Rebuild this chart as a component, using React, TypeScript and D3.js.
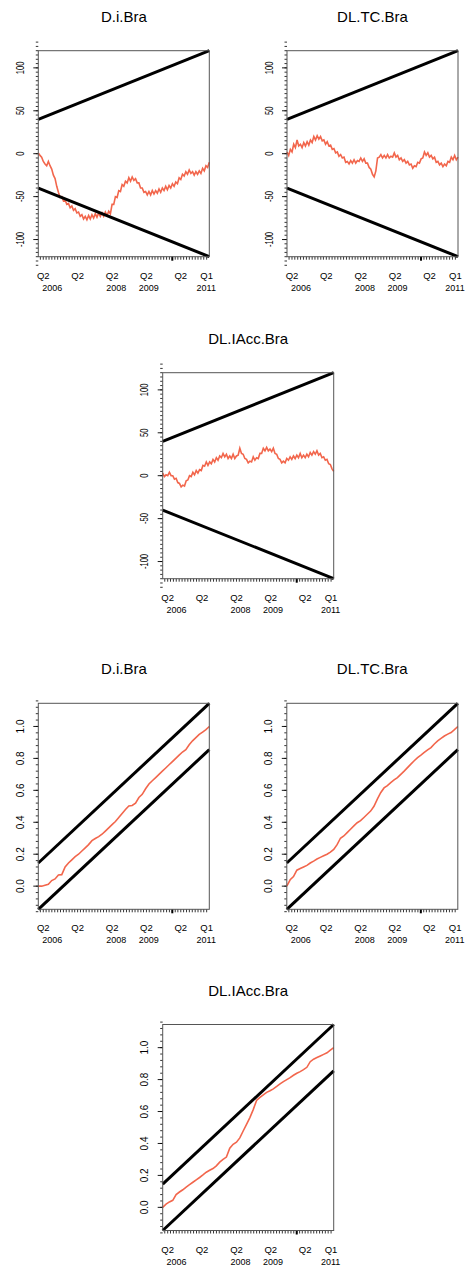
import React from "react";
import * as d3 from "d3";

// Sample window shared by every panel (daily observations, Feb 2006 – Jan 2011)
const SAMPLE_START = new Date(2006, 1, 7);
const SAMPLE_END = new Date(2011, 0, 29);

// Axis labelling
const quarterTicks = [
  { date: "2006-04-01", label: "Q2" },
  { date: "2007-04-01", label: "Q2" },
  { date: "2008-04-01", label: "Q2" },
  { date: "2009-04-01", label: "Q2" },
  { date: "2010-04-01", label: "Q2" },
  { date: "2011-01-01", label: "Q1" },
];
const yearTicks = [
  { date: "2006-07-05", label: "2006" },
  { date: "2008-05-15", label: "2008" },
  { date: "2009-04-25", label: "2009" },
  { date: "2010-12-28", label: "2011" },
];
const yearBreak = "2010-01-01";

const cusumMajorTicks = [-100, -50, 0, 50, 100];
const squaresMajorTicks = [0, 0.2, 0.4, 0.6, 0.8, 1.0];

// Critical boundaries
const cusumBound = 40; // a*sqrt(n) at the start, 3*a*sqrt(n) at the end
const squaresBound = 0.145; // c0 for the CUSUM of squares

// Recursive-residual CUSUM paths
const cusumDi = [
  1, -2, -4, -9, -12, -14, -9, -14, -18, -25, -29, -38, -45, -51, -50, -55, -54, -59, -58, -63,
  -61, -66, -64, -69, -68, -73, -71, -76, -73, -77, -72, -76, -71, -75, -70, -74, -69, -73, -69, -73,
  -68, -72, -67, -70, -59, -59, -50, -51, -43, -44, -36, -38, -32, -34, -28, -32, -27, -31, -29, -34,
  -34, -40, -40, -45, -44, -48, -44, -48, -43, -47, -43, -46, -41, -45, -40, -43, -38, -42, -37, -40,
  -35, -38, -33, -35, -28, -30, -24, -26, -21, -24, -19, -23, -21, -25, -21, -24, -20, -23, -17, -20,
  -14, -16, -10,
];
const cusumTC = [
  2, -2, 5, 2, 11, 7, 16, 9, 11, 7, 13, 9, 14, 10, 16, 13, 20, 16, 21, 17,
  20, 15, 16, 11, 14, 9, 10, 5, 6, 1, 2, -3, -1, -5, -4, -10, -9, -12, -8, -11,
  -7, -11, -8, -9, -5, -9, -6, -11, -11, -16, -18, -24, -27, -20, -5, -4, -1, -5, -2, -5,
  -1, -5, -3, -4, 1, -4, -2, -7, -5, -9, -7, -11, -9, -13, -12, -17, -14, -15, -10, -11,
  -6, -5, 2, -2, 1, -4, -2, -6, -4, -10, -9, -13, -11, -15, -12, -14, -9, -10, -4, -7,
  -2, -7, -4,
];
const cusumIAcc = [
  3, -1, 1, 0, 4, 0, 0, -4, -3, -8, -9, -13, -11, -12, -6, -5, 0, -1, 4, 1,
  6, 3, 7, 6, 12, 11, 16, 12, 16, 14, 19, 16, 21, 18, 23, 21, 26, 22, 25, 20,
  23, 20, 25, 20, 23, 24, 32, 26, 25, 20, 19, 15, 17, 16, 22, 18, 21, 20, 26, 26,
  32, 29, 33, 29, 31, 28, 32, 26, 25, 20, 19, 15, 17, 15, 20, 18, 22, 19, 23, 20,
  24, 21, 26, 21, 24, 21, 25, 22, 27, 24, 28, 25, 29, 24, 26, 21, 22, 18, 19, 14,
  13, 8, 5,
];

// CUSUM of squares paths
const squaresDi = [
  0, 0, 0.006, 0.012, 0.035, 0.045, 0.07, 0.072, 0.12, 0.145, 0.165, 0.185, 0.2, 0.22, 0.24, 0.26,
  0.285, 0.298, 0.31, 0.325, 0.345, 0.365, 0.385, 0.405, 0.43, 0.455, 0.48, 0.502, 0.505, 0.52,
  0.555, 0.575, 0.61, 0.64, 0.66, 0.68, 0.7, 0.72, 0.74, 0.76, 0.78, 0.8, 0.82, 0.84, 0.855,
  0.885, 0.91, 0.93, 0.95, 0.965, 0.98, 1.0,
];
const squaresTC = [
  0, 0.04, 0.06, 0.1, 0.11, 0.12, 0.13, 0.145, 0.157, 0.17, 0.18, 0.19, 0.2, 0.213, 0.23, 0.26,
  0.3, 0.314, 0.335, 0.356, 0.377, 0.397, 0.41, 0.43, 0.45, 0.47, 0.5, 0.545, 0.585, 0.615, 0.63,
  0.648, 0.665, 0.68, 0.7, 0.72, 0.742, 0.764, 0.785, 0.805, 0.82, 0.837, 0.853, 0.868, 0.89,
  0.91, 0.925, 0.94, 0.952, 0.962, 0.98, 1.0,
];
const squaresIAcc = [
  0, 0.02, 0.034, 0.044, 0.08, 0.096, 0.11, 0.127, 0.142, 0.157, 0.172, 0.187, 0.203, 0.22,
  0.232, 0.243, 0.26, 0.283, 0.3, 0.315, 0.37, 0.395, 0.408, 0.435, 0.478, 0.52, 0.562, 0.612,
  0.67, 0.688, 0.705, 0.72, 0.73, 0.742, 0.757, 0.773, 0.787, 0.8, 0.812, 0.827, 0.84, 0.85,
  0.862, 0.877, 0.912, 0.928, 0.938, 0.948, 0.958, 0.968, 0.984, 1.0,
];

const PATH_COLOR = "#f2664c";
const FONT = "'Liberation Sans', Arial, Helvetica, sans-serif";
const W = 171;
const H = 206;

type Kind = "cusum" | "squares";

const panels: { title: string; kind: Kind; values: number[]; x: number; y: number }[] = [
  { title: "D.i.Bra", kind: "cusum", values: cusumDi, x: 38.3, y: 50.7 },
  { title: "DL.TC.Bra", kind: "cusum", values: cusumTC, x: 287, y: 50.7 },
  { title: "DL.IAcc.Bra", kind: "cusum", values: cusumIAcc, x: 162.7, y: 372.7 },
  { title: "D.i.Bra", kind: "squares", values: squaresDi, x: 38.3, y: 703.3 },
  { title: "DL.TC.Bra", kind: "squares", values: squaresTC, x: 286.8, y: 703.3 },
  { title: "DL.IAcc.Bra", kind: "squares", values: squaresIAcc, x: 162.7, y: 1024.5 },
];

const parse = d3.timeParse("%Y-%m-%d");

function Panel({ title, kind, values, x, y }: { title: string; kind: Kind; values: number[]; x: number; y: number }) {
  const xs = d3.scaleTime().domain([SAMPLE_START, SAMPLE_END]).range([0, W]);
  const yDomain = kind === "cusum" ? [-3 * cusumBound, 3 * cusumBound] : [-squaresBound, 1 + squaresBound];
  const ys = d3.scaleLinear().domain(yDomain).range([H, 0]);

  const t0 = SAMPLE_START.getTime();
  const span = SAMPLE_END.getTime() - t0;
  const dateAt = (i: number, n: number) => new Date(t0 + (span * i) / (n - 1));

  const line = d3
    .line<number>()
    .x((_, i) => xs(dateAt(i, values.length)))
    .y((v) => ys(v));

  const bounds =
    kind === "cusum"
      ? [
          [cusumBound, 3 * cusumBound],
          [-cusumBound, -3 * cusumBound],
        ]
      : [
          [squaresBound, 1 + squaresBound],
          [-squaresBound, 1 - squaresBound],
        ];
  const boundLine = d3
    .line<[Date, number]>()
    .x((d) => xs(d[0]))
    .y((d) => ys(d[1]));

  const majors = kind === "cusum" ? cusumMajorTicks : squaresMajorTicks;
  const minors = kind === "cusum" ? d3.range(-130, 131, 5) : d3.range(-0.16, 1.17, 0.04);
  const monthTicks = d3.timeMonth.range(new Date(2006, 2, 1), new Date(2011, 0, 2));
  const fmt = (v: number) => (kind === "cusum" ? String(v) : v.toFixed(1));

  return (
    <g transform={`translate(${x},${y})`} fontFamily={FONT}>
      <text x={W / 2} y={-29} textAnchor="middle" fontSize={15} fill="#000">
        {title}
      </text>

      {/* y axis ticks */}
      {minors.map((v, i) => (
        <line key={`ym${i}`} x1={-2.5} x2={0} y1={ys(v)} y2={ys(v)} stroke="#000" strokeWidth={0.8} />
      ))}
      {majors.map((v) => (
        <g key={`yM${v}`}>
          <line x1={-5} x2={0} y1={ys(v)} y2={ys(v)} stroke="#000" strokeWidth={0.9} />
          <text
            transform={`translate(-14.5,${ys(v)}) rotate(-90)${kind === "cusum" ? " scale(0.72,1)" : ""}`}
            textAnchor="middle"
            fontSize={kind === "cusum" ? 10.5 : 10}
            fill="#000"
          >
            {fmt(v)}
          </text>
        </g>
      ))}

      {/* x axis ticks */}
      {monthTicks.map((d, i) => (
        <line key={`xm${i}`} x1={xs(d)} x2={xs(d)} y1={H} y2={H + 3} stroke="#000" strokeWidth={0.8} />
      ))}
      <line
        x1={xs(parse(yearBreak)!)}
        x2={xs(parse(yearBreak)!)}
        y1={H}
        y2={H + 4}
        stroke="#000"
        strokeWidth={2}
      />
      {quarterTicks.map((t, i) => (
        <text key={`q${i}`} x={xs(parse(t.date)!)} y={H + 22} textAnchor="middle" fontSize={9.5} fill="#000">
          {t.label}
        </text>
      ))}
      {yearTicks.map((t, i) => (
        <text key={`yr${i}`} x={xs(parse(t.date)!)} y={H + 34} textAnchor="middle" fontSize={9} fill="#000">
          {t.label}
        </text>
      ))}

      {/* process path */}
      <path d={line(values) ?? ""} fill="none" stroke={PATH_COLOR} strokeWidth={1.6} />

      {/* boundaries */}
      {bounds.map((b, i) => (
        <path
          key={`b${i}`}
          d={boundLine([
            [SAMPLE_START, b[0]],
            [SAMPLE_END, b[1]],
          ]) ?? ""}
          fill="none"
          stroke="#000"
          strokeWidth={3}
        />
      ))}

      <rect x={0} y={0} width={W} height={H} fill="none" stroke="#555" strokeWidth={1} />
    </g>
  );
}

export default function App() {
  return (
    <svg
      width={465}
      height={1268}
      viewBox="0 0 465 1268"
      style={{ position: "absolute", left: 0, top: 0, background: "#fff" }}
    >
      <rect width={465} height={1268} fill="#fff" />
      {panels.map((p, i) => (
        <Panel key={i} {...p} />
      ))}
    </svg>
  );
}
